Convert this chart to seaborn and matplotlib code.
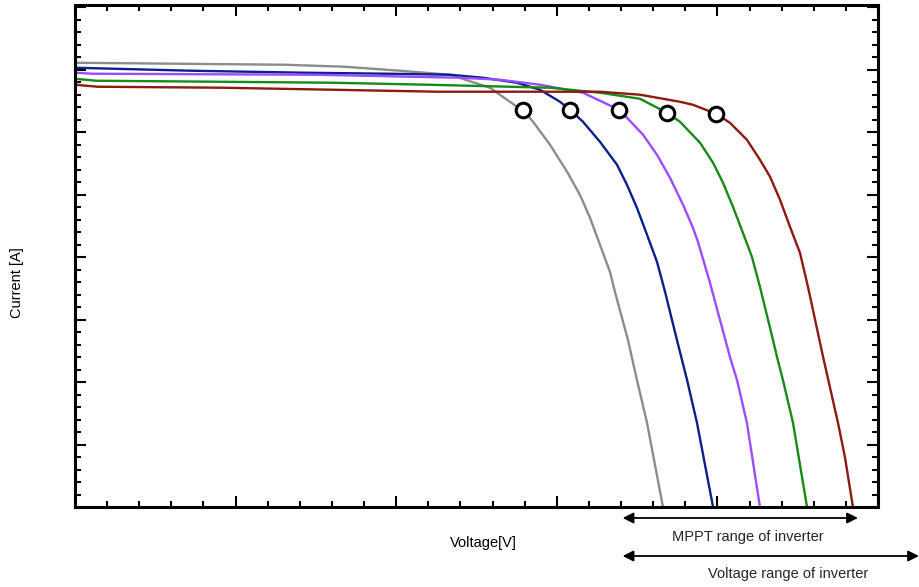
import numpy as np
import pandas as pd
import matplotlib
matplotlib.use("Agg")
import matplotlib.pyplot as plt
import seaborn as sns
from matplotlib.ticker import MultipleLocator, NullFormatter

# ---- data (arbitrary units) ----
series_names = ["gray", "blue", "purple", "green", "red"]

gray_v = [0.0, 0.654, 1.308, 1.681, 2.024, 2.335, 2.584, 2.752, 2.790, 2.852, 2.958, 3.064, 3.144, 3.207,
          3.269, 3.331, 3.362, 3.443, 3.499, 3.562, 3.661]
gray_i = [7.115, 7.099, 7.083, 7.051, 6.987, 6.923, 6.715, 6.410, 6.362, 6.170, 5.801, 5.369, 5.000, 4.631,
          4.199, 3.766, 3.446, 2.676, 2.035, 1.346, 0.0]

blue_v = [0.0, 0.73, 1.44, 1.96, 2.335, 2.540, 2.752, 2.895, 3.020, 3.082, 3.163, 3.269, 3.375, 3.437,
          3.499, 3.562, 3.624, 3.674, 3.748, 3.811, 3.873, 3.973]
blue_i = [7.035, 6.987, 6.955, 6.939, 6.923, 6.875, 6.795, 6.683, 6.490, 6.362, 6.170, 5.849, 5.481, 5.160,
          4.792, 4.359, 3.926, 3.446, 2.676, 2.035, 1.346, 0.0]

purple_v = [0.0, 0.11, 1.5, 2.1, 2.4, 2.646, 2.895, 3.163, 3.388, 3.437, 3.537, 3.624, 3.705, 3.786,
            3.848, 3.879, 3.954, 4.078, 4.122, 4.184, 4.265]
purple_i = [6.955, 6.939, 6.923, 6.891, 6.875, 6.843, 6.763, 6.635, 6.362, 6.234, 5.962, 5.641, 5.272, 4.840,
            4.471, 4.247, 3.590, 2.404, 2.035, 1.346, 0.0]

green_v = [0.0, 0.13, 0.9, 1.6, 2.2, 2.958, 3.269, 3.518, 3.686, 3.767, 3.892, 3.973, 4.035, 4.097,
           4.159, 4.215, 4.265, 4.346, 4.371, 4.408, 4.471, 4.558]
green_i = [6.859, 6.827, 6.811, 6.795, 6.763, 6.715, 6.635, 6.538, 6.314, 6.170, 5.833, 5.513, 5.192, 4.808,
           4.391, 4.006, 3.526, 2.676, 2.404, 2.035, 1.346, 0.0]

red_v = [0.0, 0.14, 0.92, 1.6, 2.26, 3.269, 3.518, 3.767, 3.848, 3.991, 4.078, 4.184, 4.265, 4.328,
         4.390, 4.452, 4.514, 4.564, 4.658, 4.751, 4.794, 4.844]
red_i = [6.763, 6.731, 6.715, 6.683, 6.651, 6.651, 6.603, 6.490, 6.442, 6.298, 6.154, 5.881, 5.561, 5.288,
         4.920, 4.487, 4.071, 3.526, 2.404, 1.346, 0.801, 0.0]

mpp_v = [2.790, 3.082, 3.388, 3.686, 3.991]
mpp_i = [6.362, 6.362, 6.362, 6.314, 6.298]

mppt_range = [3.41, 4.875]
voltage_range = [3.41, 5.255]

colors = ["#8c8c8c", "#0c1f8c", "#9a4dff", "#178a17", "#8c1a10"]

# ---- build table ----
curves = [(gray_v, gray_i), (blue_v, blue_i), (purple_v, purple_i), (green_v, green_i), (red_v, red_i)]
rows = []
for name, (vv, ii) in zip(series_names, curves):
    for v, c in zip(vv, ii):
        rows.append({"series": name, "Voltage": v, "Current": c})
df = pd.DataFrame(rows)
mpp_df = pd.DataFrame({"Voltage": mpp_v, "Current": mpp_i})

sns.set_theme(style="ticks")
plt.rcParams["font.family"] = ["Liberation Sans", "DejaVu Sans"]

fig = plt.figure(figsize=(9.19, 5.87), dpi=100)
ax = fig.add_axes([75/919, 80/587, 803/919, 502/587])

sns.lineplot(data=df, x="Voltage", y="Current", hue="series", hue_order=series_names,
             palette=colors, sort=False, estimator=None, linewidth=1.7, legend=False, ax=ax)
sns.scatterplot(data=mpp_df, x="Voltage", y="Current", s=110, facecolor="white",
                edgecolor="black", linewidth=2.2, zorder=5, legend=False, ax=ax)

ax.set_xlim(0, 5.0)
ax.set_ylim(0, 8.04)
ax.xaxis.set_major_locator(MultipleLocator(1))
ax.xaxis.set_minor_locator(MultipleLocator(0.2))
ax.yaxis.set_major_locator(MultipleLocator(1))
ax.yaxis.set_minor_locator(MultipleLocator(0.2))
ax.xaxis.set_major_formatter(NullFormatter())
ax.yaxis.set_major_formatter(NullFormatter())
ax.tick_params(which="both", direction="in", top=True, right=True, color="black")
ax.tick_params(which="major", length=8, width=1.5)
ax.tick_params(which="minor", length=4, width=1.5)
for sp in ax.spines.values():
    sp.set_visible(True)
    sp.set_linewidth(2.2)
    sp.set_color("black")

ax.set_xlabel("Voltage[V]", fontsize=10.5, color="black")
ax.xaxis.set_label_coords((483-75)/803, -(543-507)/502)
ax.xaxis.label.set_verticalalignment("center")
ax.set_ylabel("Current [A]", fontsize=10.5, color="black")
ax.yaxis.set_label_coords((17-75)/803, (507-283)/502)
ax.yaxis.label.set_verticalalignment("center")

arrow_kw = dict(arrowstyle="<|-|>", color="black", lw=1.3, mutation_scale=16,
                shrinkA=0, shrinkB=0)
ax.annotate("", xy=(mppt_range[1], -0.176), xytext=(mppt_range[0], -0.176),
            xycoords="data", arrowprops=arrow_kw, annotation_clip=False)
ax.annotate("", xy=(voltage_range[1], -0.785), xytext=(voltage_range[0], -0.785),
            xycoords="data", arrowprops=arrow_kw, annotation_clip=False)
ax.text(4.19, -0.48, "MPPT range of inverter", ha="center", va="center",
        fontsize=10.5, clip_on=False)
ax.text(4.44, -1.07, "Voltage range of inverter", ha="center", va="center",
        fontsize=10.5, clip_on=False)

fig.savefig("out.png", dpi=100)
